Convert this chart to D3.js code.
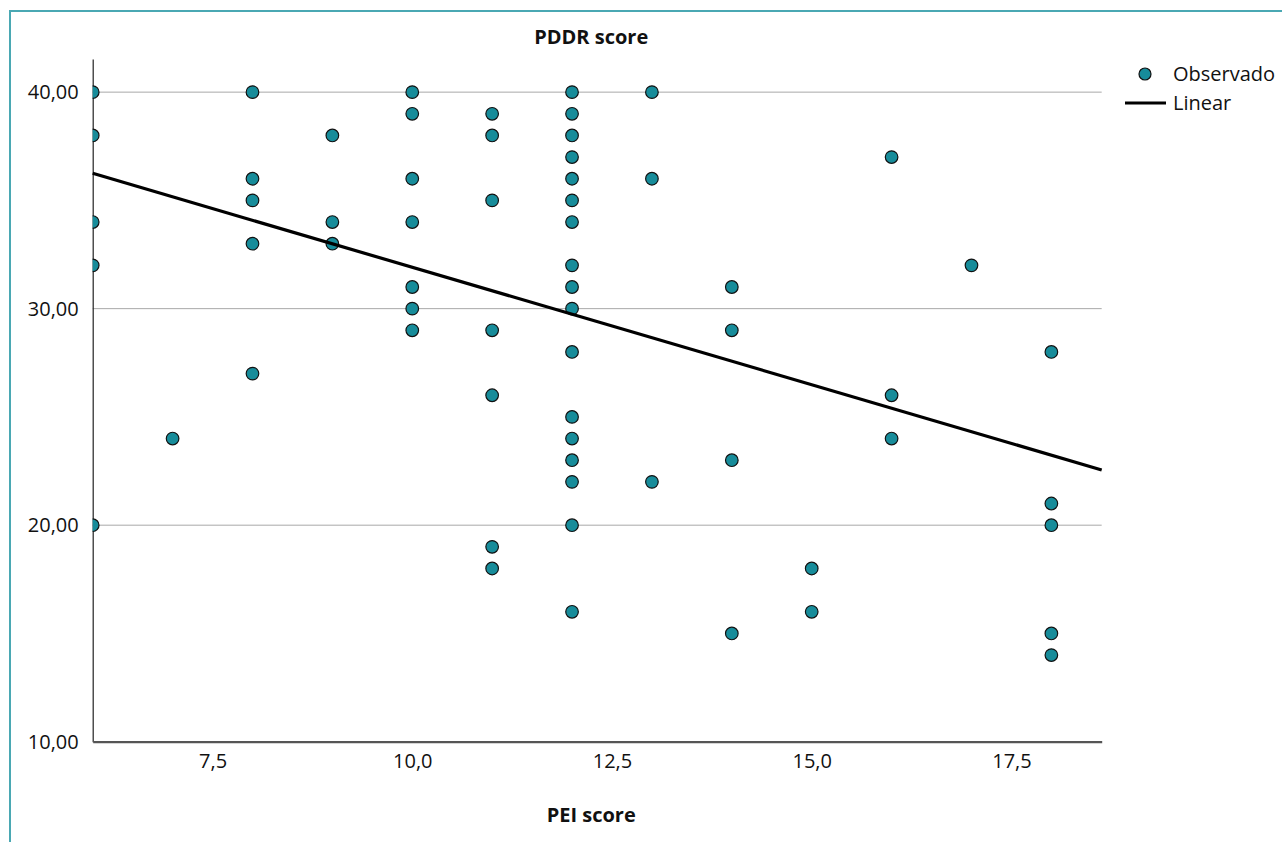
<!DOCTYPE html>
<html>
<head>
<meta charset="utf-8">
<script src="https://cdn.jsdelivr.net/npm/d3@7"></script>
<style>
  html, body { margin: 0; padding: 0; background: #fff; }
  svg { display: block; font-family: "Open Sans", "Noto Sans", sans-serif; }
</style>
</head>
<body>
<div id="chart"></div>
<script>
// PEI score (x) and PDDR score (y)
const peiScore = [
  6, 6, 6, 6, 6,
  7,
  8, 8, 8, 8, 8,
  9, 9, 9,
  10, 10, 10, 10, 10, 10, 10,
  11, 11, 11, 11, 11, 11, 11,
  12, 12, 12, 12, 12, 12, 12, 12, 12, 12, 12, 12, 12, 12, 12, 12, 12,
  13, 13, 13,
  14, 14, 14, 14,
  15, 15,
  16, 16, 16,
  17,
  18, 18, 18, 18, 18
];
const pddrScore = [
  40, 38, 34, 32, 20,
  24,
  40, 36, 35, 33, 27,
  38, 34, 33,
  40, 39, 36, 34, 31, 30, 29,
  39, 38, 35, 29, 26, 19, 18,
  40, 39, 38, 37, 36, 35, 34, 32, 31, 30, 28, 25, 24, 23, 22, 20, 16,
  40, 36, 22,
  31, 29, 23, 15,
  18, 16,
  37, 26, 24,
  32,
  28, 21, 20, 15, 14
];

// fitted line ends as drawn
const fitX = [6, 18.63];
const fitY = [36.25, 22.55];

const xTicks = [7.5, 10, 12.5, 15, 17.5];
const yTicks = [10, 20, 30, 40];
const xDomain = [6, 18.63];
const yDomain = [10, 41.53];

const legendItems = ["Observado", "Linear"];

const W = 1282, H = 842;
const margin = { top: 59, right: 180.3, bottom: 100.3, left: 92.7 };
const plotW = W - margin.left - margin.right;
const plotH = H - margin.top - margin.bottom;

const DOT = "#178c9a";
const FS = 20;
const fmt = (d, n) => d.toFixed(n).replace(".", ",");

const svg = d3.select("#chart").append("svg")
  .attr("width", W)
  .attr("height", H);

// frame
svg.append("path")
  .attr("d", `M10,${H} L10,11 L${W},11`)
  .attr("fill", "none")
  .attr("stroke", "#4aa8b3")
  .attr("stroke-width", 2);

const g = svg.append("g")
  .attr("transform", `translate(${margin.left},${margin.top})`);

const x = d3.scaleLinear().domain(xDomain).range([0, plotW]);
const y = d3.scaleLinear().domain(yDomain).range([plotH, 0]);

g.append("clipPath").attr("id", "plot-clip")
  .append("rect").attr("width", plotW).attr("height", plotH);

// grid
g.append("g")
  .selectAll("line")
  .data(yTicks.filter(d => d > yDomain[0]))
  .join("line")
  .attr("x1", 0).attr("x2", plotW)
  .attr("y1", d => y(d)).attr("y2", d => y(d))
  .attr("stroke", "#a8a8a8")
  .attr("stroke-width", 1);

// y axis
const yAxis = g.append("g")
  .call(d3.axisLeft(y).tickValues(yTicks).tickSize(0).tickPadding(14).tickFormat(d => fmt(d, 2)));
yAxis.select(".domain").attr("stroke", "#222").attr("stroke-width", 1.2);
yAxis.selectAll("text")
  .attr("font-size", FS)
  .attr("fill", "#111")
  .attr("font-family", "Open Sans, Noto Sans, sans-serif");

// x axis
const xAxis = g.append("g")
  .attr("transform", `translate(0,${plotH})`)
  .call(d3.axisBottom(x).tickValues(xTicks).tickSize(0).tickPadding(12).tickFormat(d => fmt(d, 1)));
xAxis.select(".domain").attr("stroke", "#555").attr("stroke-width", 2.2);
xAxis.selectAll("text")
  .attr("font-size", FS)
  .attr("fill", "#111")
  .attr("font-family", "Open Sans, Noto Sans, sans-serif");

// points
const pts = peiScore.map((d, i) => ({ x: d, y: pddrScore[i] }));
g.append("g")
  .attr("clip-path", "url(#plot-clip)")
  .selectAll("circle")
  .data(pts)
  .join("circle")
  .attr("cx", d => x(d.x))
  .attr("cy", d => y(d.y))
  .attr("r", 6.3)
  .attr("fill", DOT)
  .attr("stroke", "#111")
  .attr("stroke-width", 1.2);

// fit line
g.append("line")
  .attr("x1", x(fitX[0])).attr("y1", y(fitY[0]))
  .attr("x2", x(fitX[1])).attr("y2", y(fitY[1]))
  .attr("stroke", "#000")
  .attr("stroke-width", 3.2);

// titles
svg.append("text")
  .attr("x", margin.left + plotW / 2 - 6)
  .attr("y", 37)
  .attr("dy", "0.35em")
  .attr("text-anchor", "middle")
  .attr("font-size", FS)
  .attr("font-weight", "bold")
  .attr("fill", "#111")
  .text("PDDR score");

svg.append("text")
  .attr("x", margin.left + plotW / 2 - 6)
  .attr("y", 815)
  .attr("dy", "0.35em")
  .attr("text-anchor", "middle")
  .attr("font-size", FS)
  .attr("font-weight", "bold")
  .attr("fill", "#111")
  .text("PEI score");

// legend
const legend = svg.append("g").attr("transform", "translate(1125,74)");
legend.append("circle")
  .attr("cx", 20).attr("cy", 0).attr("r", 6)
  .attr("fill", DOT).attr("stroke", "#111").attr("stroke-width", 1.2);
legend.append("line")
  .attr("x1", 0).attr("x2", 41)
  .attr("y1", 29).attr("y2", 29)
  .attr("stroke", "#000").attr("stroke-width", 3.2);
legend.selectAll("text")
  .data(legendItems)
  .join("text")
  .attr("x", 48)
  .attr("y", (d, i) => i * 29)
  .attr("dy", "0.35em")
  .attr("font-size", FS)
  .attr("fill", "#111")
  .text(d => d);
</script>
</body>
</html>
